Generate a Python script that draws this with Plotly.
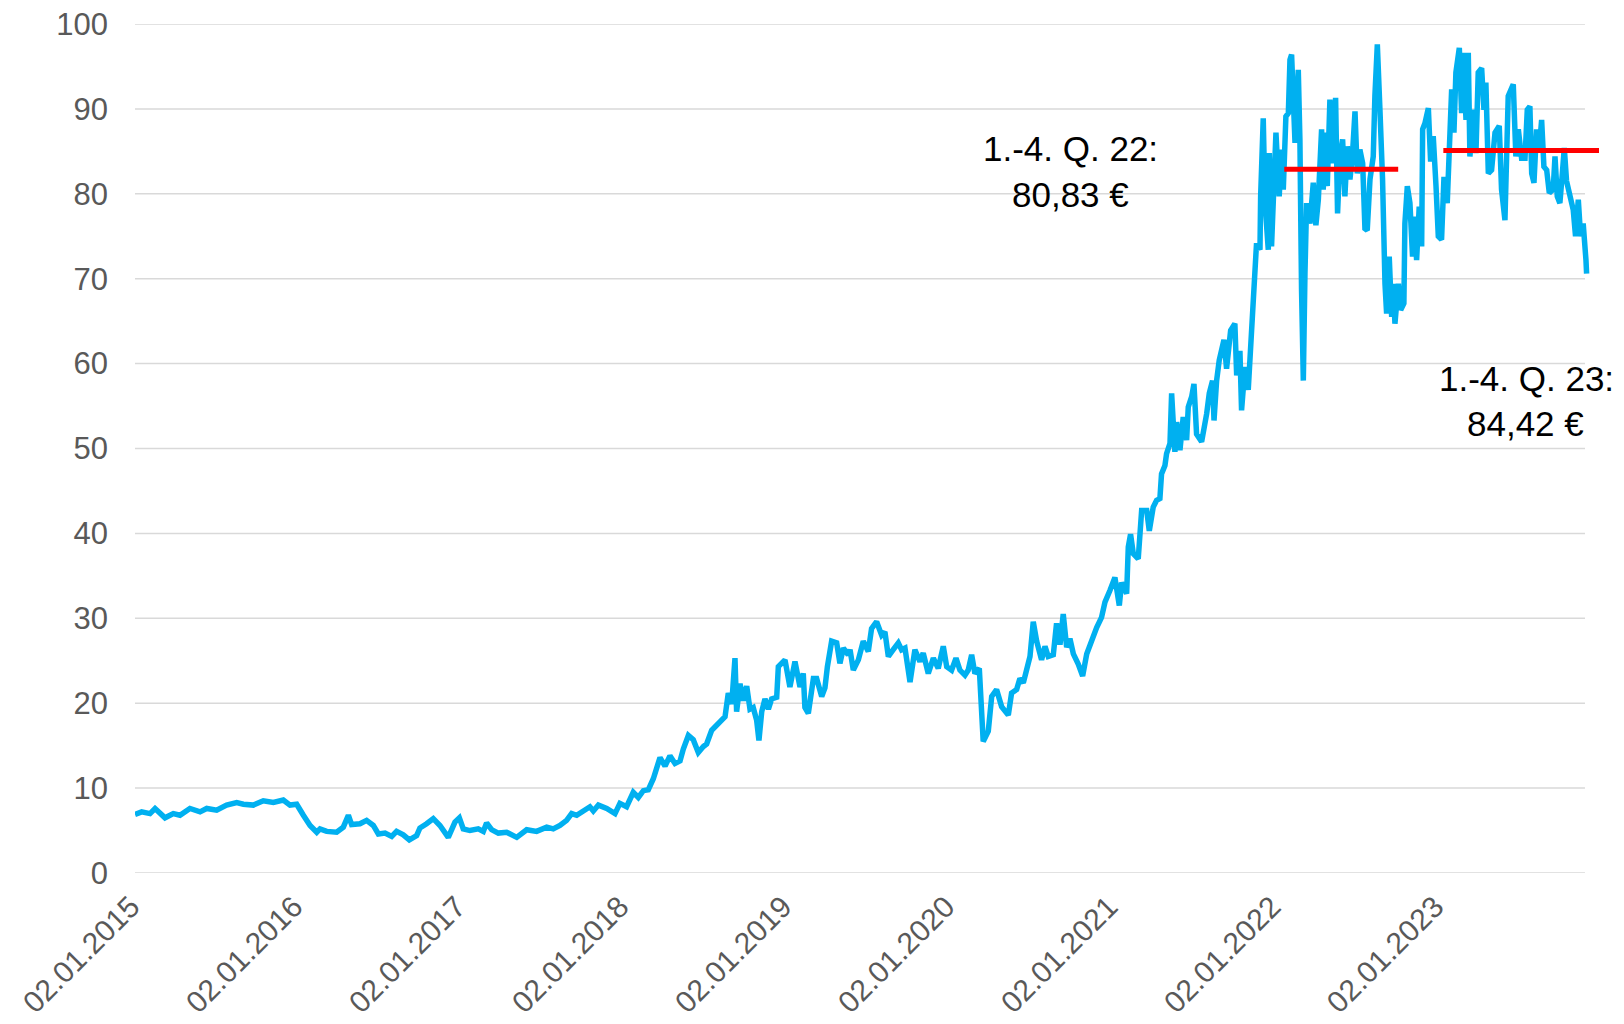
import plotly.graph_objects as go

# ---- data (time as decimal year, price in EUR) ----
t_years = [
    2015.000, 2015.041, 2015.092, 2015.123, 2015.184, 2015.235, 2015.276, 2015.337, 2015.399, 2015.440,
    2015.501, 2015.562, 2015.624, 2015.665, 2015.726, 2015.787, 2015.849, 2015.910, 2015.951, 2015.992,
    2016.033, 2016.074, 2016.115, 2016.135, 2016.176, 2016.237, 2016.278, 2016.309, 2016.329, 2016.380,
    2016.421, 2016.462, 2016.493, 2016.534, 2016.575, 2016.605, 2016.646, 2016.683, 2016.728,
    2016.748, 2016.789, 2016.830, 2016.871, 2016.922, 2016.963, 2016.990, 2017.014, 2017.055, 2017.106,
    2017.137, 2017.157, 2017.188, 2017.229, 2017.280, 2017.342, 2017.403, 2017.464, 2017.526, 2017.566,
    2017.607, 2017.648, 2017.679, 2017.710, 2017.750, 2017.791, 2017.812, 2017.843, 2017.894, 2017.945,
    2017.975, 2018.016, 2018.057, 2018.088, 2018.119, 2018.149, 2018.180,
    2018.221, 2018.252, 2018.282, 2018.313, 2018.344, 2018.364, 2018.395, 2018.425, 2018.456, 2018.487,
    2018.507, 2018.538, 2018.558, 2018.589, 2018.620, 2018.640, 2018.661, 2018.681, 2018.691, 2018.712,
    2018.732, 2018.753, 2018.773, 2018.793, 2018.814, 2018.828, 2018.845, 2018.865, 2018.886, 2018.906,
    2018.937, 2018.947, 2018.988, 2019.018, 2019.049, 2019.080, 2019.100, 2019.110, 2019.131,
    2019.162, 2019.182, 2019.213, 2019.233, 2019.248, 2019.274, 2019.305, 2019.325, 2019.346, 2019.376,
    2019.387, 2019.407, 2019.438, 2019.468, 2019.499, 2019.519, 2019.550, 2019.581, 2019.601, 2019.622,
    2019.652, 2019.683, 2019.703, 2019.724, 2019.755, 2019.785, 2019.816, 2019.836, 2019.867, 2019.898,
    2019.928, 2019.959, 2019.980, 2020.010, 2020.037, 2020.061, 2020.092, 2020.112, 2020.133, 2020.153,
    2020.180,
    2020.204, 2020.235, 2020.256, 2020.286, 2020.317, 2020.358, 2020.378, 2020.409, 2020.429, 2020.450,
    2020.470, 2020.491, 2020.511, 2020.532, 2020.562, 2020.583, 2020.603, 2020.634, 2020.654, 2020.675,
    2020.695, 2020.716, 2020.736, 2020.757, 2020.787, 2020.814, 2020.839, 2020.869, 2020.900, 2020.930,
    2020.951, 2020.982, 2021.012, 2021.039, 2021.053, 2021.084, 2021.094, 2021.108, 2021.125, 2021.155,
    2021.176, 2021.207, 2021.223, 2021.247, 2021.268, 2021.288, 2021.298, 2021.319, 2021.329, 2021.350,
    2021.360, 2021.380, 2021.391, 2021.411, 2021.431, 2021.452, 2021.462, 2021.483, 2021.497, 2021.513,
    2021.544, 2021.575, 2021.591, 2021.611, 2021.620, 2021.636, 2021.652, 2021.681, 2021.697, 2021.722,
    2021.748, 2021.759, 2021.779, 2021.789, 2021.810, 2021.830, 2021.840,
    2021.861, 2021.871, 2021.881, 2021.902, 2021.906, 2021.922, 2021.933, 2021.953, 2021.959, 2021.973,
    2021.984, 2022.000, 2022.020, 2022.035, 2022.045, 2022.061, 2022.076, 2022.086, 2022.096, 2022.106,
    2022.117, 2022.137, 2022.147, 2022.157, 2022.168, 2022.178, 2022.188, 2022.209, 2022.219, 2022.229,
    2022.245, 2022.260, 2022.280, 2022.290, 2022.307, 2022.315, 2022.331, 2022.352, 2022.366, 2022.378,
    2022.393, 2022.409, 2022.423, 2022.438, 2022.454, 2022.470, 2022.485, 2022.499, 2022.515, 2022.532,
    2022.546, 2022.560, 2022.577, 2022.597, 2022.607, 2022.622, 2022.638, 2022.654, 2022.669, 2022.679,
    2022.695, 2022.710, 2022.720, 2022.730, 2022.751, 2022.765, 2022.785,
    2022.791, 2022.806, 2022.822, 2022.838, 2022.847, 2022.863, 2022.879, 2022.894, 2022.900, 2022.914,
    2022.935, 2022.949, 2022.965, 2022.982, 2022.996, 2023.016, 2023.031, 2023.051, 2023.063, 2023.078,
    2023.092, 2023.104, 2023.125, 2023.139, 2023.149, 2023.166, 2023.180, 2023.190, 2023.211, 2023.227,
    2023.241, 2023.262, 2023.276, 2023.288, 2023.303, 2023.323, 2023.344, 2023.370, 2023.384, 2023.405,
    2023.425, 2023.456, 2023.472, 2023.487, 2023.507, 2023.528, 2023.542, 2023.558, 2023.569, 2023.583,
    2023.599, 2023.616, 2023.630, 2023.644, 2023.661, 2023.677, 2023.701, 2023.712, 2023.726, 2023.742,
    2023.757, 2023.769, 2023.783, 2023.804, 2023.824, 2023.838, 2023.855, 2023.869, 2023.885, 2023.902,
    2023.906,
]

price = [
    6.9, 7.2, 7.0, 7.6, 6.5, 7.0, 6.8, 7.6, 7.2, 7.6,
    7.4, 8.0, 8.3, 8.1, 8.0, 8.5, 8.3, 8.6, 8.0, 8.1,
    6.8, 5.6, 4.8, 5.2, 4.9, 4.8, 5.4, 6.8, 5.7, 5.8,
    6.2, 5.6, 4.6, 4.7, 4.3, 4.9, 4.5, 3.9, 4.4,
    5.3, 5.8, 6.4, 5.6, 4.2, 6.0, 6.5, 5.2, 5.0, 5.2,
    4.9, 5.9, 5.1, 4.7, 4.8, 4.2, 5.1, 4.9, 5.4, 5.2,
    5.6, 6.2, 7.0, 6.8, 7.3, 7.8, 7.3, 8.0, 7.6, 7.0,
    8.2, 7.8, 9.5, 8.9, 9.7, 9.8, 11.1,
    13.6, 12.6, 13.8, 12.9, 13.2, 14.6, 16.2, 15.7, 14.2, 14.9,
    15.2, 16.8, 17.2, 17.7, 18.4, 21.2, 19.9, 25.3, 19.0, 22.3,
    20.3, 22.0, 19.3, 19.5, 18.0, 15.6, 19.0, 20.5, 19.3, 20.5,
    20.7, 24.3, 25.1, 21.9, 24.9, 21.9, 23.5, 19.5, 18.8,
    22.9, 22.9, 20.8, 21.8, 24.3, 27.3, 27.1, 24.7, 26.5, 25.7,
    26.3, 23.9, 25.1, 27.3, 26.1, 28.8, 29.6, 28.0, 28.4, 25.5,
    26.3, 27.1, 26.3, 26.5, 22.5, 26.3, 24.9, 25.9, 23.5, 25.3,
    24.1, 26.7, 24.3, 23.9, 25.3, 23.9, 23.3, 23.9, 25.7, 23.5,
    24.1,
    15.5, 16.7, 20.8, 21.6, 19.6, 18.6, 21.2, 21.6, 22.9, 22.4,
    24.3, 25.5, 29.6, 27.3, 25.1, 26.7, 25.5, 25.7, 29.4, 26.9,
    30.5, 26.6, 27.6, 25.8, 24.6, 23.2, 25.8, 27.4, 28.9, 30.1,
    31.9, 33.3, 34.8, 31.5, 34.2, 32.9, 38.4, 39.9, 37.6, 37.0,
    42.7, 42.7, 40.3, 43.1, 43.9, 44.1, 47.0, 48.0, 49.4, 50.6,
    56.5, 49.6, 53.1, 49.8, 53.7, 51.0, 54.9, 56.1, 57.6, 51.7,
    50.8, 54.1, 56.5, 58.0, 53.3, 58.0, 60.4, 62.8, 59.4, 63.9,
    64.7, 58.6, 61.5, 54.5, 59.6, 56.9, 60.4,
    67.9, 69.3, 74.2, 73.4, 79.7, 88.9, 78.9, 73.4, 84.8, 73.8,
    80.5, 87.2, 79.7, 85.2, 80.5, 89.1, 89.5, 95.8, 96.4, 91.5,
    86.0, 94.6, 86.4, 68.7, 58.0, 70.6, 78.9, 76.5, 80.1, 81.3,
    76.3, 79.3, 87.6, 80.5, 87.2, 80.9, 91.1, 83.6, 91.3, 77.7,
    84.4, 86.4, 79.7, 85.6, 81.7, 84.8, 89.7, 82.4, 85.2, 83.6,
    75.9, 75.7, 81.7, 84.4, 91.5, 97.6, 89.9, 81.7, 69.4, 65.9,
    72.6, 65.5, 69.4, 64.7, 69.4, 66.3, 67.1,
    76.5, 80.9, 78.9, 72.6, 77.3, 72.2, 78.5, 73.8, 87.6, 88.3,
    90.1, 83.8, 86.8, 80.9, 75.0, 74.6, 82.0, 78.9, 86.4, 92.3,
    87.2, 94.3, 97.2, 89.5, 96.6, 88.7, 96.6, 84.4, 89.9, 84.8,
    94.3, 94.8, 89.9, 93.1, 82.4, 82.8, 87.2, 88.0, 80.5, 76.9,
    91.5, 92.9, 84.4, 87.6, 84.2, 84.2, 89.9, 90.3, 82.4, 81.3,
    87.6, 85.4, 88.7, 83.2, 82.8, 80.1, 80.5, 84.4, 79.7, 78.9,
    82.4, 85.4, 81.5, 79.7, 78.1, 75.0, 79.3, 75.0, 76.5, 72.2,
    70.6,
]

# yearly average lines (as drawn) and their labels
avg_start = [2022.051, 2023.027]
avg_end = [2022.750, 2023.982]
avg_value = [82.9, 85.1]
avg_label_line1 = ["1.-4. Q. 22:", "1.-4. Q. 23:"]
avg_label_line2 = ["80,83 €", "84,42 €"]

tick_years = [2015, 2016, 2017, 2018, 2019, 2020, 2021, 2022, 2023]
tick_text = ["02.01." + str(y) for y in tick_years]
y_ticks = [0, 10, 20, 30, 40, 50, 60, 70, 80, 90, 100]

# ---- styling ----
FONT = "Arial, 'Liberation Sans', sans-serif"
BLUE = "#00B0F0"
RED = "#FF0000"
GRID = "#D9D9D9"
TICKCOL = "#595959"

fig = go.Figure()

fig.add_trace(go.Scatter(
    x=t_years, y=price, mode="lines",
    line=dict(color=BLUE, width=5.5),
    hoverinfo="skip", showlegend=False,
))

for xs, xe, v in zip(avg_start, avg_end, avg_value):
    fig.add_trace(go.Scatter(
        x=[xs, xe], y=[v, v], mode="lines",
        line=dict(color=RED, width=5),
        hoverinfo="skip", showlegend=False,
    ))

# horizontal gridlines (end where the data ends)
grid_end = 2023.896
for yv in y_ticks:
    fig.add_shape(type="line", xref="x", yref="y",
                  x0=tick_years[0], x1=grid_end, y0=yv, y1=yv,
                  line=dict(color=GRID, width=1.5), layer="below")

# annotation texts
label_pos = [((0.6387, 0.8539), (0.6387, 0.7986)),
             ((0.9508, 0.5819), (0.9495, 0.5300))]
for (p1, p2), l1, l2 in zip(label_pos, avg_label_line1, avg_label_line2):
    for (px, py), txt in ((p1, l1), (p2, l2)):
        fig.add_annotation(x=px, y=py, xref="paper", yref="paper",
                           text=txt, showarrow=False,
                           xanchor="center", yanchor="middle",
                           font=dict(family=FONT, size=35, color="#000000"))

# the page body adds an 8 px offset, so the figure is 8 px smaller on each axis
fig.update_layout(
    template="none",
    width=1616, height=1016,
    margin=dict(l=127, r=25, t=16, b=151, pad=0, autoexpand=False),
    paper_bgcolor="white", plot_bgcolor="white",
    font=dict(family=FONT, size=30, color=TICKCOL),
    xaxis=dict(
        range=[2015.0, 2023.982], automargin=False,
        tickmode="array", tickvals=tick_years, ticktext=tick_text,
        tickangle=-45, showgrid=False, zeroline=False, showline=False,
        ticks="", ticklabelstandoff=9, ticklabelshift=-4,
        ticklabeloverflow="allow",
        tickfont=dict(family=FONT, size=30, color=TICKCOL),
    ),
    yaxis=dict(
        range=[0, 100], automargin=False,
        tickmode="array", tickvals=y_ticks,
        showgrid=False, zeroline=False, showline=False,
        ticks="", ticklabelstandoff=26,
        ticklabeloverflow="allow",
        tickfont=dict(family=FONT, size=31, color=TICKCOL),
    ),
)

fig.write_html("out.html")
